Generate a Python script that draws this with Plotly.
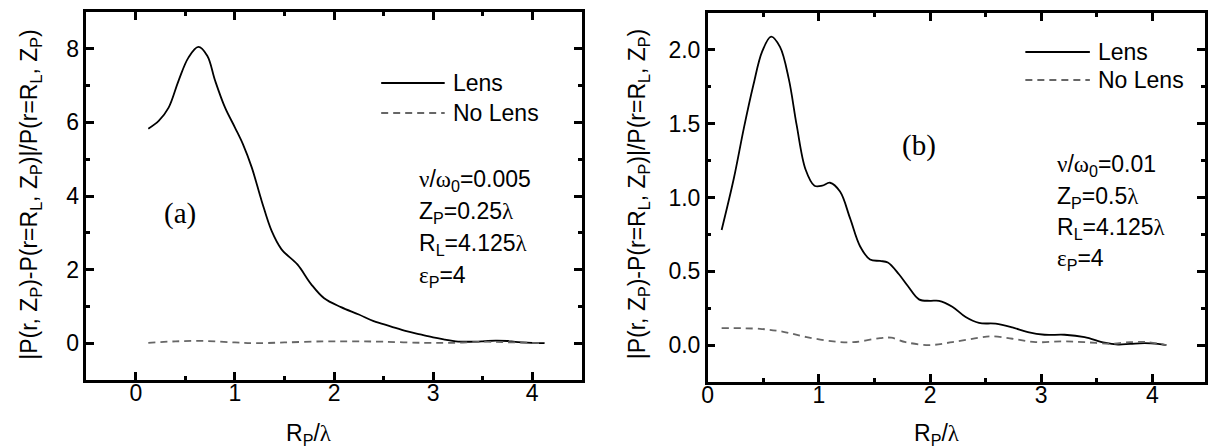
import plotly.graph_objects as go

# ---------------- data ----------------
lens_a_x = [0.125, 0.23, 0.33, 0.43, 0.53, 0.63, 0.72, 0.80, 0.90, 1.00, 1.08, 1.17, 1.27,
            1.37, 1.47, 1.63, 1.77, 1.90, 2.07, 2.25, 2.40, 2.57, 2.73, 2.87, 3.00, 3.12,
            3.23, 3.37, 3.50, 3.63, 3.75, 3.83, 4.00, 4.125]
lens_a_y = [5.83, 6.04, 6.40, 7.13, 7.76, 8.05, 7.81, 7.13, 6.40, 5.86, 5.41, 4.77, 3.86,
            3.05, 2.55, 2.14, 1.60, 1.22, 0.98, 0.78, 0.60, 0.46, 0.33, 0.24, 0.16, 0.10,
            0.05, 0.04, 0.05, 0.07, 0.06, 0.035, 0.01, 0.0]

nolens_a_x = [0.125, 0.4, 0.7, 1.0, 1.2, 1.5, 1.9, 2.2, 2.5, 2.9, 3.2, 3.5, 3.7, 4.0, 4.125]
nolens_a_y = [0.01, 0.05, 0.06, 0.02, 0.0, 0.02, 0.05, 0.05, 0.04, 0.01, 0.01, 0.04, 0.03, 0.01, 0.0]

lens_b_x = [0.125, 0.235, 0.325, 0.41, 0.49, 0.57, 0.65, 0.73, 0.80, 0.88, 0.96, 1.03, 1.10,
            1.19, 1.28, 1.37, 1.46, 1.55, 1.62, 1.72, 1.80, 1.90, 2.00, 2.08, 2.20, 2.32,
            2.44, 2.59, 2.74, 2.88, 3.03, 3.21, 3.39, 3.57, 3.69, 3.80, 3.93, 4.05, 4.125]
lens_b_y = [0.78, 1.13, 1.47, 1.76, 1.99, 2.09, 2.02, 1.80, 1.49, 1.19, 1.08, 1.08, 1.10,
            1.04, 0.86, 0.67, 0.58, 0.57, 0.56, 0.48, 0.40, 0.31, 0.30, 0.30, 0.26, 0.19,
            0.15, 0.145, 0.12, 0.088, 0.07, 0.07, 0.054, 0.016, 0.004, 0.008, 0.013, 0.008, 0.0]

nolens_b_x = [0.125, 0.47, 0.68, 0.89, 1.13, 1.31, 1.55, 1.65, 1.78, 1.99, 2.2, 2.44, 2.55,
              2.74, 2.95, 3.18, 3.39, 3.63, 3.8, 3.96, 4.125]
nolens_b_y = [0.115, 0.11, 0.09, 0.054, 0.025, 0.02, 0.047, 0.05, 0.02, 0.0, 0.02, 0.05, 0.06,
              0.043, 0.02, 0.025, 0.02, 0.009, 0.02, 0.02, 0.0]

# tick values
xticks_major = [0, 1, 2, 3, 4]
xticks_minor = [0.5, 1.5, 2.5, 3.5]
yticks_a_major = [0, 2, 4, 6, 8]
yticks_a_minor = [1, 3, 5, 7]
yticks_b_major = [0.0, 0.5, 1.0, 1.5, 2.0]
yticks_b_minor = [0.25, 0.75, 1.25, 1.75]

series_names = ["Lens", "No Lens"]
params_a = ["ν/ω<sub>0</sub>=0.005", "Z<sub>P</sub>=0.25λ", "R<sub>L</sub>=4.125λ", "ε<sub>P</sub>=4"]
params_b = ["ν/ω<sub>0</sub>=0.01", "Z<sub>P</sub>=0.5λ", "R<sub>L</sub>=4.125λ", "ε<sub>P</sub>=4"]
panel_labels = ["(a)", "(b)"]

# ---------------- styling ----------------
W, H = 1208, 447
SANS = "Liberation Sans, Arial, Helvetica, sans-serif"
SERIF = "Liberation Serif, Times New Roman, serif"
FS = 23
DASH_GRAY = "#666666"
LW = 2.5
MAJ_LEN, MIN_LEN = 8, 4


def px(x):
    return x / W


def py(y):
    return 1 - y / H


def greek(s):
    for g in "νωλε":
        s = s.replace(g, f"<span style='font-family:Liberation Serif'>{g}</span>")
    return s


def axis_style(rng, tickvals, minorvals, domain, anchor, tickformat=None, standoff=0):
    d = dict(
        range=rng, domain=domain, anchor=anchor,
        showline=True, linewidth=LW, linecolor="#000000", mirror="ticks",
        ticks="inside", ticklen=MAJ_LEN, tickwidth=LW, tickcolor="#000000",
        tickvals=tickvals,
        minor=dict(ticks="inside", ticklen=MIN_LEN, tickwidth=LW, tickcolor="#000000",
                   tickvals=minorvals, showgrid=False),
        showgrid=False, zeroline=False, layer="above traces",
        ticklabelstandoff=standoff,
        tickfont=dict(family=SANS, size=FS, color="black"),
    )
    if tickformat:
        d["tickformat"] = tickformat
    return d


solid = dict(color="black", width=1.8)
dashed = dict(color=DASH_GRAY, width=1.8, dash="7px,5px")

fig = go.Figure()
fig.add_trace(go.Scatter(x=lens_a_x, y=lens_a_y, mode="lines", name=series_names[0],
                         line=dict(**solid, shape="spline"), xaxis="x", yaxis="y", showlegend=False))
fig.add_trace(go.Scatter(x=nolens_a_x, y=nolens_a_y, mode="lines", name=series_names[1],
                         line=dict(**dashed, shape="spline"), xaxis="x", yaxis="y", showlegend=False))
fig.add_trace(go.Scatter(x=lens_b_x, y=lens_b_y, mode="lines", name=series_names[0],
                         line=dict(**solid, shape="spline"), xaxis="x2", yaxis="y2", showlegend=False))
fig.add_trace(go.Scatter(x=nolens_b_x, y=nolens_b_y, mode="lines", name=series_names[1],
                         line=dict(**dashed, shape="spline"), xaxis="x2", yaxis="y2", showlegend=False))

left_dom_x = [px(81), px(580)]
left_dom_y = [py(380), py(12)]
right_dom_x = [px(707), 1.0]
right_dom_y = [py(382), py(13)]

annotations = []
shapes = []

ytitle = ("|P(r, Z<sub>P</sub>)-P(r=R<sub>L</sub>, Z<sub>P</sub>)|/"
          "P(r=R<sub>L</sub>, Z<sub>P</sub>)")
xtitle = greek("R<sub>P</sub>/λ")

for (tx, ty) in [(25, 195), (637, 194)]:
    annotations.append(dict(text=ytitle, x=px(tx), y=py(ty), xref="paper", yref="paper",
                            textangle=-90, showarrow=False, xanchor="center", yanchor="middle",
                            font=dict(family=SANS, size=FS, color="black")))
for (tx, ty) in [(305, 434), (938, 434)]:
    annotations.append(dict(text=xtitle, x=px(tx), y=py(ty), xref="paper", yref="paper",
                            showarrow=False, xanchor="center", yanchor="middle",
                            font=dict(family=SANS, size=FS, color="black")))

# legends (drawn per panel)
for (x0, x1, ys) in [(378, 442, (83, 113)), (1027, 1092, (52, 80))]:
    for name, yy, ln in zip(series_names, ys, [solid, dashed]):
        shapes.append(dict(type="line", xref="paper", yref="paper",
                           x0=px(x0), x1=px(x1), y0=py(yy), y1=py(yy), line=ln))
        annotations.append(dict(text=name, x=px(x1 + 6), y=py(yy), xref="paper", yref="paper",
                                showarrow=False, xanchor="left", yanchor="middle",
                                font=dict(family=SANS, size=FS, color="black")))

# parameter blocks
for params, x0, ys in [(params_a, 414, (180, 212, 244, 276)), (params_b, 1057, (165, 197, 228, 259))]:
    for t, yy in zip(params, ys):
        annotations.append(dict(text=greek(t), x=px(x0), y=py(yy), xref="paper", yref="paper",
                                showarrow=False, xanchor="left", yanchor="middle",
                                font=dict(family=SANS, size=FS, color="black")))

# panel labels
for lab, (cx, cy) in zip(panel_labels, [(175, 213), (920, 145)]):
    annotations.append(dict(text=lab, x=px(cx), y=py(cy), xref="paper", yref="paper",
                            showarrow=False, xanchor="center", yanchor="middle",
                            font=dict(family=SERIF, size=29, color="black")))

fig.update_layout(
    width=W, height=H,
    margin=dict(l=0, r=0, t=0, b=0),
    paper_bgcolor="white", plot_bgcolor="white",
    showlegend=False,
    xaxis=axis_style([-0.5, 4.5], xticks_major, xticks_minor, left_dom_x, "y", standoff=-9),
    yaxis=axis_style([-1, 9], yticks_a_major, yticks_a_minor, left_dom_y, "x"),
    xaxis2=axis_style([0, 4.473], xticks_major, xticks_minor, right_dom_x, "y2", standoff=-9),
    yaxis2=axis_style([-0.25, 2.25], yticks_b_major, yticks_b_minor, right_dom_y, "x2",
                      tickformat=".1f"),
    annotations=annotations,
    shapes=shapes,
)

fig.write_html("out.html", config={"displayModeBar": False},
               post_script="document.body.style.margin='0px';")
